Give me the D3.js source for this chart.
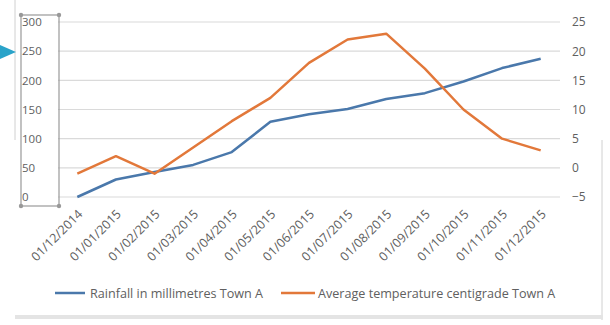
<!DOCTYPE html>
<html><head><meta charset="utf-8">
<script src="https://cdn.jsdelivr.net/npm/d3@7"></script>
<style>body{margin:0;background:#fff;} svg{display:block;}</style>
</head><body>
<svg id="c" width="610" height="325"></svg>
<script>
const categories = ["01/12/2014","01/01/2015","01/02/2015","01/03/2015","01/04/2015","01/05/2015","01/06/2015","01/07/2015","01/08/2015","01/09/2015","01/10/2015","01/11/2015","01/12/2015"];
const rainfall = [0, 30, 43, 55, 77, 129, 142, 151, 168, 178, 198, 221, 237];
const temperature = [-1, 2, -1, 3.5, 8, 12, 18, 22, 23, 17, 10, 5, 3];
const leftTicks = [0, 50, 100, 150, 200, 250, 300];
const rightTicks = [-5, 0, 5, 10, 15, 20, 25];
const seriesNames = ["Rainfall in millimetres Town A", "Average temperature centigrade Town A"];
const colors = ["#4a78ab", "#e2783a"];

const svg = d3.select("#c");
const font = "'Open Sans', 'Liberation Sans', sans-serif";
const plot = {l: 58, r: 560, t: 22, b: 197};

// chart frame decorations
svg.append("line").attr("x1",15).attr("x2",15).attr("y1",0).attr("y2",140).attr("stroke","#d0d0d0");
svg.append("line").attr("x1",602).attr("x2",602).attr("y1",140).attr("y2",320).attr("stroke","#d0d0d0");
svg.append("rect").attr("x",15).attr("y",315).attr("width",588).attr("height",4).attr("fill","#e4e4e4");

const x = d3.scaleBand().domain(categories).range([plot.l, plot.r]);
const yL = d3.scaleLinear().domain([0,300]).range([plot.b, plot.t]);
const yR = d3.scaleLinear().domain([-5,25]).range([plot.b, plot.t]);

// gridlines
svg.append("g").selectAll("line").data(leftTicks).join("line")
  .attr("x1", plot.l).attr("x2", plot.r)
  .attr("y1", d=>yL(d)).attr("y2", d=>yL(d))
  .attr("stroke", "#dadada").attr("stroke-width", 1.2);

// left axis
const gl = svg.append("g").attr("transform",`translate(${plot.l-8},0)`)
  .call(d3.axisLeft(yL).tickValues(leftTicks).tickSize(0).tickPadding(0));
gl.select(".domain").remove();
gl.selectAll("text").attr("font-family",font).attr("font-size",11.5).attr("fill","#606060").attr("text-anchor","start").attr("x",-28);

// right axis
const gr = svg.append("g").attr("transform",`translate(${plot.r+12},0)`)
  .call(d3.axisRight(yR).tickValues(rightTicks).tickSize(0).tickPadding(0));
gr.select(".domain").remove();
gr.selectAll("text").attr("font-family",font).attr("font-size",12).attr("fill","#606060");

// x axis labels
const gx = svg.append("g").attr("transform",`translate(0,${plot.b})`)
  .call(d3.axisBottom(x).tickSize(0).tickPadding(0));
gx.select(".domain").remove();
gx.selectAll("text").attr("font-family",font).attr("font-size",12.5).attr("fill","#606060")
  .attr("text-anchor","end").attr("dy",0).attr("y",0)
  .attr("transform","translate(6,18) rotate(-45)");

// selection box around left axis
svg.append("rect").attr("x",21).attr("y",15).attr("width",38).attr("height",191)
  .attr("fill","none").attr("stroke","#999").attr("stroke-width",1.2);
[[21,15],[59,15],[21,206],[59,206]].forEach(p=>{
  svg.append("circle").attr("cx",p[0]).attr("cy",p[1]).attr("r",2.2).attr("fill","#999");
});
svg.append("path").attr("d","M0,45 L16,52 L0,59 Z").attr("fill","#2aa3c9");

// lines
const lineL = d3.line().x((d,i)=>x(categories[i])+x.bandwidth()/2).y(d=>yL(d));
const lineR = d3.line().x((d,i)=>x(categories[i])+x.bandwidth()/2).y(d=>yR(d));
svg.append("path").datum(rainfall).attr("d",lineL).attr("fill","none")
  .attr("stroke",colors[0]).attr("stroke-width",2.5).attr("stroke-linejoin","round");
svg.append("path").datum(temperature).attr("d",lineR).attr("fill","none")
  .attr("stroke",colors[1]).attr("stroke-width",2.5).attr("stroke-linejoin","round");

// legend
const leg = [{x:55, w:30, tx:90, name:seriesNames[0], c:colors[0]},{x:281, w:34, tx:318, name:seriesNames[1], c:colors[1]}];
leg.forEach(l=>{
  svg.append("line").attr("x1",l.x).attr("x2",l.x+l.w).attr("y1",293).attr("y2",293)
    .attr("stroke",l.c).attr("stroke-width",2.5);
  svg.append("text").attr("x",l.tx).attr("y",297.5).text(l.name)
    .attr("font-family",font).attr("font-size",12.6).attr("fill","#606060");
});
</script>
</body></html>
